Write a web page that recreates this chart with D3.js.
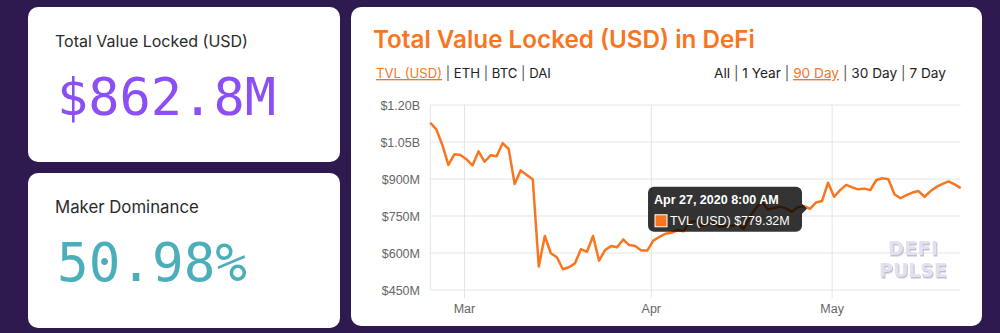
<!DOCTYPE html>
<html><head><meta charset="utf-8">
<script src="https://cdn.jsdelivr.net/npm/d3@7"></script>
<style>
html,body{margin:0;padding:0;background:#2e1a4e;}
svg{display:block;}
</style></head>
<body>
<svg id="c" width="1000" height="333"></svg>
<script>
// ---------- data ----------
const startDate = "2020-02-24T08:00:00";
const tvlValues = [1128,1101,1038,957,1000,997,980,955,1012,970,996,992,1045,1022,880,935,916,899,545,669,
599,583,534,542,558,616,605,669,569,612,628,623,655,632,628,610,610,650,665,678,
682,692,688,725,730,709,718,723,707,709,709,718,697,747,782,807,776,782,788,781,
767,786,790,779.32,805,811,885,828,855,876,866,858,861,855,896,903,899,838,822,835,
845,851,828,851,868,880,890,878,862.8]; // millions USD, daily
const yTicks = [450,600,750,900,1050,1200];
const yTickLabels = ["$450M","$600M","$750M","$900M","$1.05B","$1.20B"];
const xTickDates = ["2020-03-01","2020-04-01","2020-05-01"];
const xTickLabels = ["Mar","Apr","May"];
const assetTabs = ["TVL (USD)","ETH","BTC","DAI"];
const rangeTabs = ["All","1 Year","90 Day","30 Day","7 Day"];
const statTitles = ["Total Value Locked (USD)","Maker Dominance"];
const statValues = ["$862.8M","50.98%"];
const watermarkLines = ["DEFI","PULSE"];
const tooltipTitle = "Apr 27, 2020 8:00 AM";
const tooltipBody = "TVL (USD) $779.32M";
const tooltipIndex = 63;

// ---------- helpers ----------
const svg = d3.select("#c");
const ORANGE = "#f7761f";
function fit(sel, target){
  const n = sel.node(); const fs = parseFloat(sel.style("font-size"));
  const w = n.getComputedTextLength();
  sel.style("font-size", (fs*target/w).toFixed(2)+"px");
}
const defs = svg.append("defs");
const f = defs.append("filter").attr("id","wmShadow").attr("x","-20%").attr("y","-20%")
  .attr("width","140%").attr("height","140%");
f.append("feDropShadow").attr("dx",1).attr("dy",1.5).attr("stdDeviation",0.6)
  .attr("flood-color","#b9b5cf").attr("flood-opacity",0.9);

// ---------- cards ----------
const cards = [
  {x:28,y:7,w:312,h:155},
  {x:28,y:173,w:312,h:155},
  {x:351,y:7,w:631,h:319}
];
svg.selectAll("rect.card").data(cards).join("rect").attr("class","card")
  .attr("x",d=>d.x).attr("y",d=>d.y).attr("width",d=>d.w).attr("height",d=>d.h)
  .attr("rx",10).attr("fill","#fff");

const statColors = ["#8b4ff4","#4aafba"];
const statTitleWidths = [193,144];
const statValueWidths = [219,190];
statTitles.forEach((t,i)=>{
  const cy = cards[i].y;
  const tt = svg.append("text").attr("x",55).attr("y",cy+40)
    .style("font-family","Inter, 'Noto Sans', sans-serif").style("font-size","15px")
    .attr("fill","#2a2a2a").text(t);
  fit(tt, statTitleWidths[i]);
  const vv = svg.append("text").attr("x",57).attr("y",cy+108)
    .style("font-family","'DejaVu Sans Mono', monospace").style("font-size","52px")
    .attr("fill",statColors[i]).text(statValues[i]);
  fit(vv, statValueWidths[i]);
});

// ---------- chart title ----------
const title = svg.append("text").attr("x",373).attr("y",48)
  .style("font-family","Inter, 'Noto Sans', sans-serif").style("font-weight","600")
  .style("font-size","24px").attr("fill",ORANGE).text("Total Value Locked (USD) in DeFi");
fit(title, 382);

function tabRow(items, activeIdx, x, width, anchor){
  const t = svg.append("text").attr("x",x).attr("y",78)
    .style("font-family","Inter, 'Noto Sans', sans-serif").style("font-size","12px")
    .attr("text-anchor",anchor).attr("fill","#222");
  items.forEach((s,i)=>{
    if(i>0) t.append("tspan").attr("fill","#555").text(" | ");
    const sp = t.append("tspan").text(s);
    if(i===activeIdx) sp.attr("fill",ORANGE).style("text-decoration","underline");
  });
  fit(t, width);
}
tabRow(assetTabs, 0, 376, 175, "start");
tabRow(rangeTabs, 2, 946, 232, "end");

// ---------- plot ----------
const parse = d3.isoParse;
const t0 = parse(startDate);
const data = tvlValues.map((v,i)=>({date:d3.timeDay.offset(t0,i), value:v}));
const x = d3.scaleTime().domain(d3.extent(data,d=>d.date)).range([430.3,960.7]);
const y = d3.scaleLinear().domain([450,1200]).range([290,105]);

const grid = svg.append("g");
grid.selectAll("line.h").data(yTicks).join("line")
  .attr("x1",430.3).attr("x2",960.7).attr("y1",d=>y(d)).attr("y2",d=>y(d))
  .attr("stroke","#e4e4e4").attr("stroke-width",1);
grid.append("line").attr("x1",430.3).attr("x2",430.3).attr("y1",105).attr("y2",290)
  .attr("stroke","#e4e4e4");
grid.selectAll("line.v").data(xTickDates).join("line")
  .attr("x1",d=>x(parse(d))).attr("x2",d=>x(parse(d))).attr("y1",105).attr("y2",298)
  .attr("stroke","#e4e4e4");

const axisFont = "'Liberation Sans', Arial, Helvetica, sans-serif";
svg.append("g").selectAll("text").data(yTicks).join("text")
  .attr("x",420).attr("y",d=>y(d)+4.5).attr("text-anchor","end")
  .style("font-family",axisFont).style("font-size","12.5px").attr("fill","#666")
  .text((d,i)=>yTickLabels[i]);
svg.append("g").selectAll("text").data(xTickDates).join("text")
  .attr("x",d=>x(parse(d))).attr("y",312.5).attr("text-anchor","middle")
  .style("font-family",axisFont).style("font-size","12.5px").attr("fill","#666")
  .text((d,i)=>xTickLabels[i]);

// watermark
const wm = svg.append("g").style("font-family","'DejaVu Sans', sans-serif")
  .style("font-weight","bold").style("font-size","19px")
  .attr("text-anchor","middle").attr("filter","url(#wmShadow)");
const wmY = [255, 276.5], wmW = [50, 68];
watermarkLines.forEach((s,i)=>{
  const t = wm.append("text").attr("x",913).attr("y",wmY[i]).attr("fill","#e3e1ee")
    .attr("textLength",wmW[i]).attr("lengthAdjust","spacing").text(s);
});

// line
svg.append("path").datum(data)
  .attr("d", d3.line().x(d=>x(d.date)).y(d=>y(d.value)))
  .attr("fill","none").attr("stroke",ORANGE).attr("stroke-width",2.5)
  .attr("stroke-linejoin","round");

// tooltip
const tp = data[tooltipIndex];
const px = x(tp.date), py = y(tp.value);
const tg = svg.append("g");
const tw = 154, th = 45, tx = px - 8 - tw, ty = py - 22;
tg.append("rect").attr("x",tx).attr("y",ty).attr("width",tw).attr("height",th)
  .attr("rx",6).attr("fill","rgba(0,0,0,0.8)");
tg.append("path").attr("d",`M${tx+tw},${py-5}L${tx+tw+5},${py}L${tx+tw},${py+5}Z`)
  .attr("fill","rgba(0,0,0,0.8)");
tg.append("text").attr("x",tx+6).attr("y",ty+17)
  .style("font-family",axisFont).style("font-weight","bold").style("font-size","12.5px")
  .attr("fill","#fff").text(tooltipTitle);
tg.append("rect").attr("x",tx+7).attr("y",ty+28).attr("width",12).attr("height",12)
  .attr("fill",ORANGE).attr("stroke","#fff").attr("stroke-width",1);
tg.append("text").attr("x",tx+22).attr("y",ty+38.5)
  .style("font-family",axisFont).style("font-size","12.5px")
  .attr("fill","#fff").text(tooltipBody);
</script>
</body></html>
